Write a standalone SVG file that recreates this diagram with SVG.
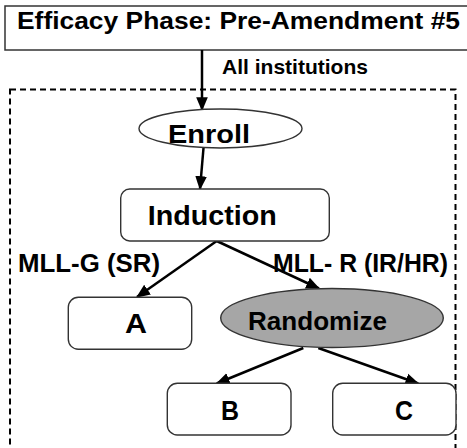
<svg xmlns="http://www.w3.org/2000/svg" width="467" height="448" viewBox="0 0 467 448">
<defs>
<style>
text{font-family:"Liberation Sans",Arial,sans-serif;font-weight:bold;fill:#000}
.box{fill:#fff;stroke:#333;stroke-width:1.4}
.conn{stroke:#000;stroke-width:2.5;fill:none;marker-end:url(#ah)}
</style>
<marker id="ah" markerUnits="userSpaceOnUse" markerWidth="14" markerHeight="14" viewBox="0 0 12 12" refX="11" refY="6" orient="auto">
<path d="M0,1 L12,6 L0,11 Z" fill="#000"/>
</marker>
</defs>
<rect x="10" y="89.5" width="445.5" height="362" fill="none" stroke="#000" stroke-width="2" stroke-dasharray="6,4"/>
<g id="title">
<rect x="5" y="6" width="470" height="44" fill="#fff" stroke="#333" stroke-width="1.5"/>
<text x="17" y="29" font-size="24" textLength="443" lengthAdjust="spacingAndGlyphs">Efficacy Phase: Pre-Amendment #5</text>
</g>
<g id="connectors">
<line class="conn" x1="202" y1="50" x2="202" y2="110"/>
<line class="conn" x1="203.5" y1="148" x2="200" y2="189"/>
<line class="conn" x1="216.7" y1="241" x2="137" y2="297"/>
<line class="conn" x1="216.7" y1="241" x2="319" y2="288.5"/>
<line class="conn" x1="303.3" y1="348" x2="216.7" y2="383.5"/>
<line class="conn" x1="318.3" y1="348" x2="418.3" y2="383.5"/>
<text x="222" y="74" font-size="20.5" textLength="146" lengthAdjust="spacingAndGlyphs">All institutions</text>
<text x="18" y="272" font-size="25" textLength="142" lengthAdjust="spacingAndGlyphs">MLL-G (SR)</text>
<text x="273" y="272" font-size="25" textLength="175" lengthAdjust="spacingAndGlyphs">MLL- R (IR/HR)</text>
</g>
<g id="enroll">
<ellipse cx="220.5" cy="128.5" rx="81.5" ry="19.5" class="box"/>
<text x="168" y="143" font-size="26" textLength="82" lengthAdjust="spacingAndGlyphs">Enroll</text>
</g>
<g id="induction">
<rect x="120.7" y="189" width="208.6" height="52" rx="9" class="box"/>
<text x="147.7" y="225" font-size="28" textLength="129" lengthAdjust="spacingAndGlyphs">Induction</text>
</g>
<g id="a">
<rect x="68.3" y="297.3" width="123.4" height="52" rx="10" class="box"/>
<text x="125" y="333" font-size="27" textLength="22" lengthAdjust="spacingAndGlyphs">A</text>
</g>
<g id="randomize">
<ellipse cx="332" cy="318" rx="111.3" ry="29.5" fill="#a6a6a6" stroke="#333" stroke-width="1.4"/>
<text x="248" y="330" font-size="25" textLength="139" lengthAdjust="spacingAndGlyphs">Randomize</text>
</g>
<g id="b">
<rect x="167.3" y="383.3" width="123.7" height="51.7" rx="10" class="box"/>
<text x="221" y="420" font-size="27" textLength="18" lengthAdjust="spacingAndGlyphs">B</text>
</g>
<g id="c">
<rect x="332.7" y="383.3" width="123.3" height="51.7" rx="10" class="box"/>
<text x="395" y="420" font-size="27" textLength="18" lengthAdjust="spacingAndGlyphs">C</text>
</g>
</svg>
